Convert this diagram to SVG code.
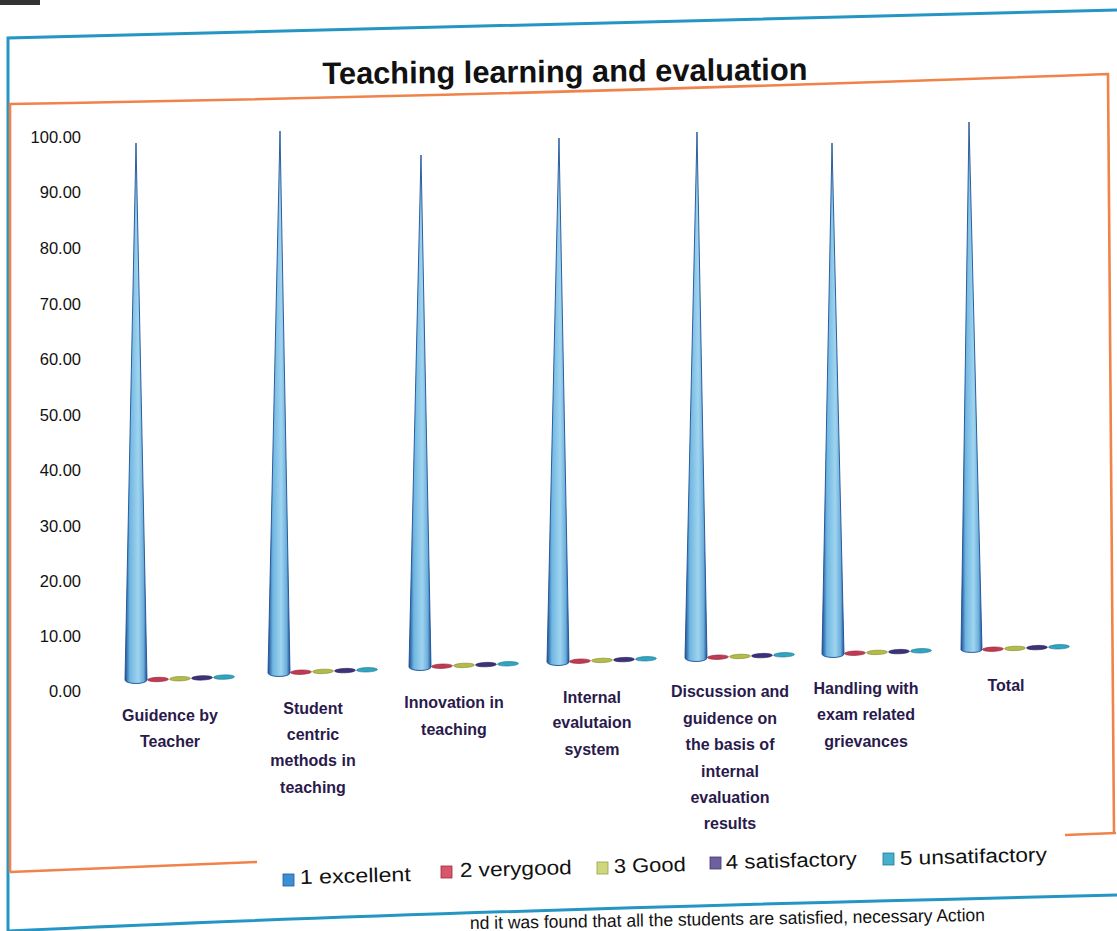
<svg xmlns="http://www.w3.org/2000/svg" width="1117" height="931" viewBox="0 0 1117 931">
<defs>
<linearGradient id="cone" x1="0" y1="0" x2="1" y2="0">
<stop offset="0" stop-color="#1c4f94"/>
<stop offset="0.22" stop-color="#6fb6e2"/>
<stop offset="0.6" stop-color="#9fd4ef"/>
<stop offset="0.85" stop-color="#6aaedc"/>
<stop offset="1" stop-color="#1c4f94"/>
</linearGradient>
<style>
.frameB{fill:none;stroke:#2596c4;stroke-width:3}
.frameO{fill:none;stroke:#f0834a;stroke-width:2.6}
.ylab{font-family:"Liberation Sans",Arial,sans-serif;font-size:16.5px;fill:#111;text-anchor:end}
.clab{font-family:"Liberation Sans",Arial,sans-serif;font-size:16px;font-weight:bold;fill:#2a1a4c;text-anchor:middle}
.leg{font-family:"Liberation Sans",Arial,sans-serif;font-size:20px;fill:#111}
.big{fill:url(#cone);stroke:#1c4f94;stroke-width:0.9}
.s2{fill:#c23a52;stroke:#8a1f35;stroke-width:0.6}
.s3{fill:#b5bb48;stroke:#7d8a2a;stroke-width:0.6}
.s4{fill:#3c3278;stroke:#241c55;stroke-width:0.6}
.s5{fill:#2fa6bf;stroke:#1c7090;stroke-width:0.6}
</style>
</defs>
<rect x="0" y="0" width="1117" height="931" fill="#ffffff"/>
<g id="page-frame">
<rect x="0" y="0" width="40" height="5" fill="#333"/>
<path class="frameB" d="M8,931 L8,38 Q420,28 1117,10"/>
<path class="frameB" d="M8,931 Q400,912 1117,895"/>
</g>
<g id="chart-frame">
<path class="frameO" d="M10,872 L10,104 Q500,96 1108,74 L1114,833"/>
<path class="frameO" d="M10,872 L257,862"/>
<path class="frameO" d="M1065,835 L1116,833"/>
</g>
<g id="title">
<text x="565" y="82" font-family="Liberation Sans, Arial, sans-serif" font-size="31" font-weight="bold" fill="#111" text-anchor="middle" textLength="485" lengthAdjust="spacingAndGlyphs" transform="rotate(-0.5 565 82)">Teaching learning and evaluation</text>
</g>
<g id="y-axis">
<text class="ylab" x="81" y="143">100.00</text>
<text class="ylab" x="81" y="198">90.00</text>
<text class="ylab" x="81" y="254">80.00</text>
<text class="ylab" x="81" y="310">70.00</text>
<text class="ylab" x="81" y="365">60.00</text>
<text class="ylab" x="81" y="421">50.00</text>
<text class="ylab" x="81" y="476">40.00</text>
<text class="ylab" x="81" y="532">30.00</text>
<text class="ylab" x="81" y="587">20.00</text>
<text class="ylab" x="81" y="642">10.00</text>
<text class="ylab" x="81" y="697">0.00</text>
</g>
<g id="series">
<g id="cat1">
<path class="big" d="M125,680 L136,143 L147,680 A11,3.5 0 0 1 125,680 Z"/>
<ellipse class="s2" cx="158" cy="679.5" rx="10.5" ry="2.2" transform="rotate(-2 158 679.5)"/>
<ellipse class="s3" cx="180" cy="678.7" rx="10.5" ry="2.2" transform="rotate(-2 180 678.7)"/>
<ellipse class="s4" cx="202" cy="677.9" rx="10.5" ry="2.2" transform="rotate(-2 202 677.9)"/>
<ellipse class="s5" cx="224" cy="677.1" rx="10.5" ry="2.2" transform="rotate(-2 224 677.1)"/>
</g>
<g id="cat2">
<path class="big" d="M268,673 L280,131 L290,673 A11,3.5 0 0 1 268,673 Z"/>
<ellipse class="s2" cx="301" cy="672.2" rx="10.5" ry="2.2" transform="rotate(-2 301 672.2)"/>
<ellipse class="s3" cx="323" cy="671.4" rx="10.5" ry="2.2" transform="rotate(-2 323 671.4)"/>
<ellipse class="s4" cx="345" cy="670.6" rx="10.5" ry="2.2" transform="rotate(-2 345 670.6)"/>
<ellipse class="s5" cx="367" cy="669.8" rx="10.5" ry="2.2" transform="rotate(-2 367 669.8)"/>
</g>
<g id="cat3">
<path class="big" d="M409,667 L421,155 L431,667 A11,3.5 0 0 1 409,667 Z"/>
<ellipse class="s2" cx="442" cy="666.2" rx="10.5" ry="2.2" transform="rotate(-2 442 666.2)"/>
<ellipse class="s3" cx="464" cy="665.4" rx="10.5" ry="2.2" transform="rotate(-2 464 665.4)"/>
<ellipse class="s4" cx="486" cy="664.6" rx="10.5" ry="2.2" transform="rotate(-2 486 664.6)"/>
<ellipse class="s5" cx="508" cy="663.8" rx="10.5" ry="2.2" transform="rotate(-2 508 663.8)"/>
</g>
<g id="cat4">
<path class="big" d="M547,662 L559,138 L569,662 A11,3.5 0 0 1 547,662 Z"/>
<ellipse class="s2" cx="580" cy="661.2" rx="10.5" ry="2.2" transform="rotate(-2 580 661.2)"/>
<ellipse class="s3" cx="602" cy="660.4" rx="10.5" ry="2.2" transform="rotate(-2 602 660.4)"/>
<ellipse class="s4" cx="624" cy="659.6" rx="10.5" ry="2.2" transform="rotate(-2 624 659.6)"/>
<ellipse class="s5" cx="646" cy="658.8" rx="10.5" ry="2.2" transform="rotate(-2 646 658.8)"/>
</g>
<g id="cat5">
<path class="big" d="M685,658 L697,132 L707,658 A11,3.5 0 0 1 685,658 Z"/>
<ellipse class="s2" cx="718" cy="657.2" rx="10.5" ry="2.2" transform="rotate(-2 718 657.2)"/>
<ellipse class="s3" cx="740" cy="656.4" rx="10.5" ry="2.2" transform="rotate(-2 740 656.4)"/>
<ellipse class="s4" cx="762" cy="655.6" rx="10.5" ry="2.2" transform="rotate(-2 762 655.6)"/>
<ellipse class="s5" cx="784" cy="654.8" rx="10.5" ry="2.2" transform="rotate(-2 784 654.8)"/>
</g>
<g id="cat6">
<path class="big" d="M822,654 L832,143 L844,654 A11,3.5 0 0 1 822,654 Z"/>
<ellipse class="s2" cx="855" cy="653.2" rx="10.5" ry="2.2" transform="rotate(-2 855 653.2)"/>
<ellipse class="s3" cx="877" cy="652.4" rx="10.5" ry="2.2" transform="rotate(-2 877 652.4)"/>
<ellipse class="s4" cx="899" cy="651.6" rx="10.5" ry="2.2" transform="rotate(-2 899 651.6)"/>
<ellipse class="s5" cx="921" cy="650.8" rx="10.5" ry="2.2" transform="rotate(-2 921 650.8)"/>
</g>
<g id="cat7">
<path class="big" d="M961,650 L969,122 L982,650 A11,3.5 0 0 1 961,650 Z"/>
<ellipse class="s2" cx="993" cy="649.2" rx="10.5" ry="2.2" transform="rotate(-2 993 649.2)"/>
<ellipse class="s3" cx="1015" cy="648.4" rx="10.5" ry="2.2" transform="rotate(-2 1015 648.4)"/>
<ellipse class="s4" cx="1037" cy="647.6" rx="10.5" ry="2.2" transform="rotate(-2 1037 647.6)"/>
<ellipse class="s5" cx="1059" cy="646.8" rx="10.5" ry="2.2" transform="rotate(-2 1059 646.8)"/>
</g>
</g>
<g id="x-labels">
<text class="clab" x="170" y="721">Guidence by</text>
<text class="clab" x="170" y="747">Teacher</text>
<text class="clab" x="313" y="714">Student</text>
<text class="clab" x="313" y="740">centric</text>
<text class="clab" x="313" y="766">methods in</text>
<text class="clab" x="313" y="793">teaching</text>
<text class="clab" x="454" y="708">Innovation in</text>
<text class="clab" x="454" y="735">teaching</text>
<text class="clab" x="592" y="703">Internal</text>
<text class="clab" x="592" y="728">evalutaion</text>
<text class="clab" x="592" y="755">system</text>
<text class="clab" x="730" y="697">Discussion and</text>
<text class="clab" x="730" y="724">guidence on</text>
<text class="clab" x="730" y="750">the basis of</text>
<text class="clab" x="730" y="777">internal</text>
<text class="clab" x="730" y="803">evaluation</text>
<text class="clab" x="730" y="829">results</text>
<text class="clab" x="866" y="694">Handling with</text>
<text class="clab" x="866" y="720">exam related</text>
<text class="clab" x="866" y="747">grievances</text>
<text class="clab" x="1006" y="691">Total</text>
</g>
<g id="legend">
<rect x="283" y="874" width="11" height="12" fill="#3c8fd2" stroke="#1c5a9a" stroke-width="0.8"/>
<text class="leg" x="300" y="884" textLength="111" lengthAdjust="spacingAndGlyphs" transform="rotate(-1.5 300 884)">1  excellent</text>
<rect x="441" y="866" width="11" height="12" fill="#d8556a" stroke="#a02a40" stroke-width="0.8"/>
<text class="leg" x="460" y="877" textLength="112" lengthAdjust="spacingAndGlyphs" transform="rotate(-1.5 460 877)">2  verygood</text>
<rect x="597" y="862" width="11" height="12" fill="#cfd67c" stroke="#9aa048" stroke-width="0.8"/>
<text class="leg" x="614" y="873" textLength="72" lengthAdjust="spacingAndGlyphs" transform="rotate(-1.5 614 873)">3 Good</text>
<rect x="710" y="857" width="11" height="12" fill="#6e5f9e" stroke="#43386e" stroke-width="0.8"/>
<text class="leg" x="726" y="869" textLength="131" lengthAdjust="spacingAndGlyphs" transform="rotate(-1.5 726 869)">4 satisfactory</text>
<rect x="883" y="853" width="11" height="12" fill="#47b0cc" stroke="#1f7b98" stroke-width="0.8"/>
<text class="leg" x="900" y="865" textLength="147" lengthAdjust="spacingAndGlyphs" transform="rotate(-1.5 900 865)">5 unsatifactory</text>
</g>
<g id="footer-text">
<text x="985" y="921" font-family="Liberation Sans, Arial, sans-serif" font-size="18" fill="#111" text-anchor="end" textLength="515" lengthAdjust="spacingAndGlyphs" transform="rotate(-0.9 985 921)">nd it was found that all the students are satisfied, necessary Action</text>
</g>
</svg>
